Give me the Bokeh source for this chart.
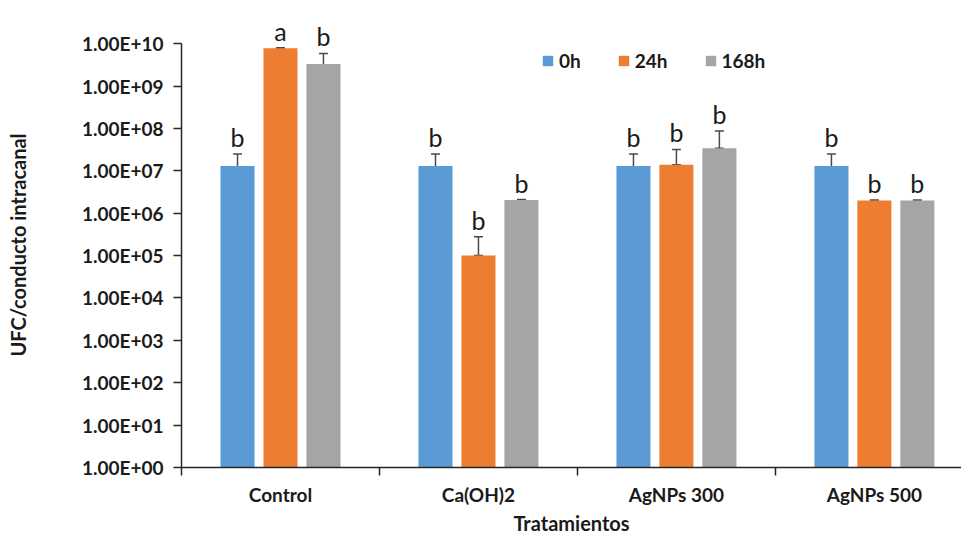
from bokeh.plotting import figure
from bokeh.models import (ColumnDataSource, Range1d, FixedTicker, CustomJSTickFormatter,
                          Legend, LegendItem, Whisker, TeeHead, LabelSet)
from bokeh.core.properties import value
from bokeh.embed import file_html
from bokeh.resources import INLINE

categories = ["Control", "Ca(OH)2", "AgNPs 300", "AgNPs 500"]
series = ["0h", "24h", "168h"]
vals_0h = [1.3e7, 1.3e7, 1.3e7, 1.3e7]
vals_24h = [7.8e9, 1.0e5, 1.4e7, 2.0e6]
vals_168h = [3.3e9, 2.05e6, 3.4e7, 2.0e6]
err_0h = [1.2e7, 1.2e7, 1.2e7, 1.2e7]
err_24h = [2.0e8, 1.8e5, 1.8e7, 5.0e4]
err_168h = [2.6e9, 5.0e4, 5.3e7, 5.0e4]
letters_0h = ["b", "b", "b", "b"]
letters_24h = ["a", "b", "b", "b"]
letters_168h = ["b", "b", "b", "b"]
colors = ["#5B9BD5", "#ED7D31", "#A5A5A5"]
y_ticks = [10 ** k for k in range(11)]

FONT = "Lato"
TXT = "#1a1a1a"

p = figure(width=961, height=537, y_axis_type="log", output_backend="svg",
           toolbar_location=None, x_range=Range1d(0, 3.94), y_range=Range1d(1, 10 ** 10.5),
           min_border_left=181, min_border_right=0, min_border_top=22, min_border_bottom=68)
p.outline_line_color = None
p.xgrid.visible = False
p.ygrid.visible = False

offsets = [-0.217, 0.0, 0.217]
all_vals = [vals_0h, vals_24h, vals_168h]
all_errs = [err_0h, err_24h, err_168h]
all_letters = [letters_0h, letters_24h, letters_168h]
items = []
for s, (name, vals, errs, lets, col, off) in enumerate(zip(series, all_vals, all_errs, all_letters, colors, offsets)):
    xs = [i + 0.5 + off for i in range(len(categories))]
    upper = [v + e for v, e in zip(vals, errs)]
    lower = [v - e if v - e > 0 else v for v, e in zip(vals, errs)]
    src = ColumnDataSource(dict(x=xs, top=vals, upper=upper, lower=lower, lab=lets))
    r = p.vbar(x="x", top="top", bottom=1, width=0.172, source=src,
               fill_color=col, line_color=None)
    items.append(LegendItem(label=name, renderers=[r]))
    w = Whisker(base="x", upper="upper", lower="lower", source=src, dimension="height",
                line_color="#4a4a4a", line_width=1.5,
                upper_head=TeeHead(size=9, line_color="#4a4a4a", line_width=1.5),
                lower_head=TeeHead(size=9, line_color="#4a4a4a", line_width=1.5))
    p.add_layout(w)
    ls = LabelSet(x="x", y="upper", text="lab", source=src, y_offset=7,
                  text_align="center", text_baseline="alphabetic",
                  text_font=value(FONT), text_font_size="25px", text_color=TXT)
    p.add_layout(ls)

legend = Legend(items=items, orientation="horizontal", location=(360, 395),
                border_line_color=None, background_fill_alpha=0, padding=0, margin=0,
                glyph_width=13, glyph_height=13, label_standoff=5, spacing=36,
                label_text_font=FONT, label_text_font_style="bold",
                label_text_font_size="19px", label_text_color=TXT)
p.add_layout(legend)

# Y axis
ya = p.yaxis[0]
ya.ticker = FixedTicker(ticks=y_ticks)
ya.bounds = (1, 1e10)
ya.formatter = CustomJSTickFormatter(code="""
const e = Math.round(Math.log10(tick));
return "1.00E+" + (e < 10 ? "0" : "") + e;
""")
ya.major_tick_out = 8
ya.major_tick_in = 0
ya.minor_tick_out = 0
ya.minor_tick_in = 0
ya.major_label_standoff = 10
ya.axis_line_color = "#262626"
ya.axis_line_width = 1.5
ya.major_tick_line_color = "#262626"
ya.major_tick_line_width = 1.5
ya.major_label_text_font = FONT
ya.major_label_text_font_style = "bold"
ya.major_label_text_font_size = "19px"
ya.major_label_text_color = TXT
ya.axis_label = "UFC/conducto intracanal"
ya.axis_label_text_font = FONT
ya.axis_label_text_font_style = "bold"
ya.axis_label_text_font_size = "20px"
ya.axis_label_text_color = TXT
ya.axis_label_standoff = 49

# X axis
xa = p.xaxis[0]
xa.ticker = FixedTicker(ticks=[0.5, 1.5, 2.5, 3.5], minor_ticks=[0, 1, 2, 3, 4])
xa.formatter = CustomJSTickFormatter(args=dict(labels=categories),
                                     code="return labels[Math.floor(tick)];")
xa.major_tick_out = 0
xa.major_tick_in = 0
xa.minor_tick_out = 8
xa.minor_tick_in = 0
xa.minor_tick_line_color = "#262626"
xa.minor_tick_line_width = 1.5
xa.axis_line_color = "#262626"
xa.axis_line_width = 1.5
xa.major_label_standoff = 7
xa.major_label_text_font = FONT
xa.major_label_text_font_style = "bold"
xa.major_label_text_font_size = "19px"
xa.major_label_text_line_height = 1.0
xa.major_label_text_color = TXT
xa.axis_label = "Tratamientos"
xa.axis_label_text_font = FONT
xa.axis_label_text_font_style = "bold"
xa.axis_label_text_font_size = "20px"
xa.axis_label_text_line_height = 1.0
xa.axis_label_text_color = TXT
xa.axis_label_standoff = 2

open("out.html", "w").write(file_html(p, INLINE))
